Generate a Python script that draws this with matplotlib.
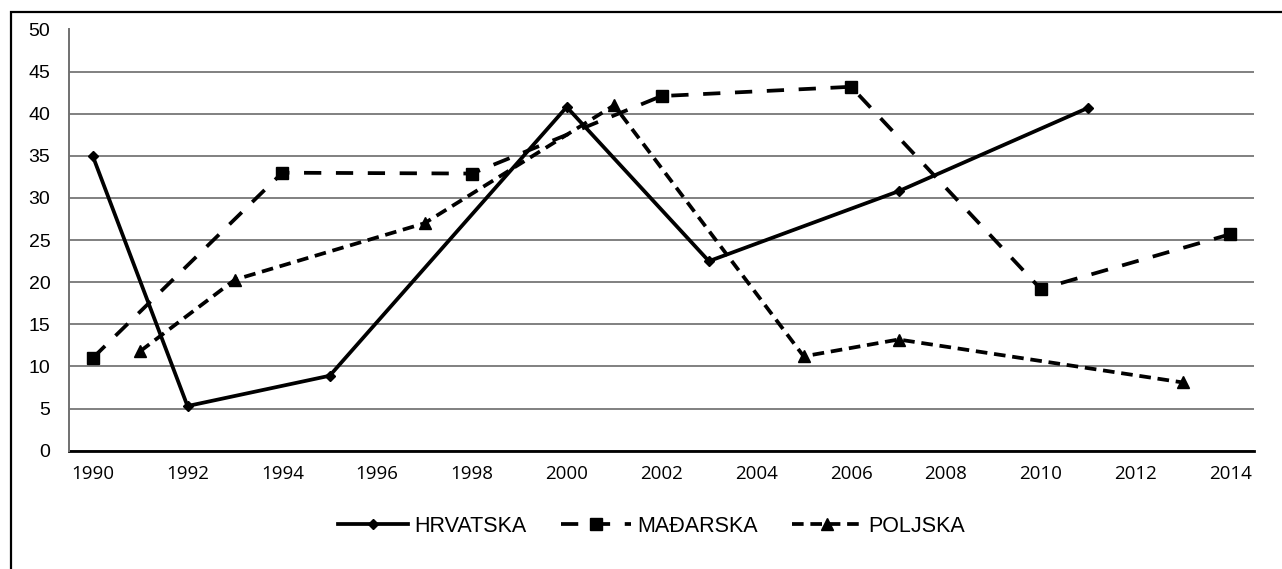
import matplotlib
matplotlib.use("Agg")
import matplotlib.pyplot as plt
from matplotlib.patches import Rectangle

# ---- data ----
categories = list(range(1990, 2015))
tick_labels = [str(y) for y in range(1990, 2015, 2)]

hr_years = [1990, 1992, 1995, 2000, 2003, 2007, 2011]
hr_values = [35.0, 5.3, 8.9, 40.8, 22.5, 30.8, 40.7]

hu_years = [1990, 1994, 1998, 2002, 2006, 2010, 2014]
hu_values = [11.0, 33.0, 32.9, 42.1, 43.2, 19.2, 25.7]

pl_years = [1991, 1993, 1997, 2001, 2005, 2007, 2013]
pl_values = [11.8, 20.3, 27.0, 41.0, 11.2, 13.2, 8.1]

series_names = ["HRVATSKA", "MAĐARSKA", "POLJSKA"]

W, H = 1282, 569
fig = plt.figure(figsize=(W / 100, H / 100), dpi=100)
ax = fig.add_axes([69 / W, 1 - 450.7 / H, (1254 - 69) / W, (450.7 - 29.5) / H])

def pos(years):
    return [categories.index(y) for y in years]

lw = 2.7
ax.plot(pos(hr_years), hr_values, color="black", lw=lw, ls="-",
        marker="D", markersize=5.5, label=series_names[0], zorder=3)
ax.plot(pos(hu_years), hu_values, color="black", lw=lw, ls=(0, (4.6, 3.9)),
        marker="s", markersize=8.5, label=series_names[1], zorder=3)
ax.plot(pos(pl_years), pl_values, color="black", lw=lw, ls=(0, (3.1, 1.8)),
        marker="^", markersize=9, label=series_names[2], zorder=3)

ax.set_xlim(-0.5, len(categories) - 0.5)
ax.set_ylim(0, 50)
ax.set_yticks(range(0, 51, 5))
ax.set_xticks([categories.index(int(t)) for t in tick_labels])
ax.set_xticklabels(tick_labels, fontfamily="Open Sans", fontsize=13.5)
for lab in ax.get_yticklabels():
    lab.set_fontfamily("Liberation Sans")
    lab.set_fontsize(14)
ax.tick_params(axis="both", length=0)
ax.tick_params(axis="y", pad=13.5)
ax.tick_params(axis="x", pad=10)

ax.grid(axis="y", color="#808080", lw=1.4, zorder=1)
ax.set_axisbelow(True)
for s in ["top", "right"]:
    ax.spines[s].set_visible(False)
ax.spines["left"].set_color("#707070")
ax.spines["left"].set_linewidth(1.4)
ax.spines["bottom"].set_color("black")
ax.spines["bottom"].set_linewidth(2.0)
ax.spines["bottom"].set_zorder(2)

fig.legend(loc="center", bbox_to_anchor=(651.5 / W, 1 - 526 / H), ncol=3,
           frameon=False, prop={"family": "Liberation Sans", "size": 15.5},
           handlelength=3.25, handletextpad=0.3, columnspacing=1.6)

fig.patches.append(Rectangle((11 / W, -0.1), 2, 1 - 12 / H + 0.1,
                             transform=fig.transFigure, fill=False,
                             edgecolor="black", lw=1.6))

fig.savefig("out.png", dpi=100)
